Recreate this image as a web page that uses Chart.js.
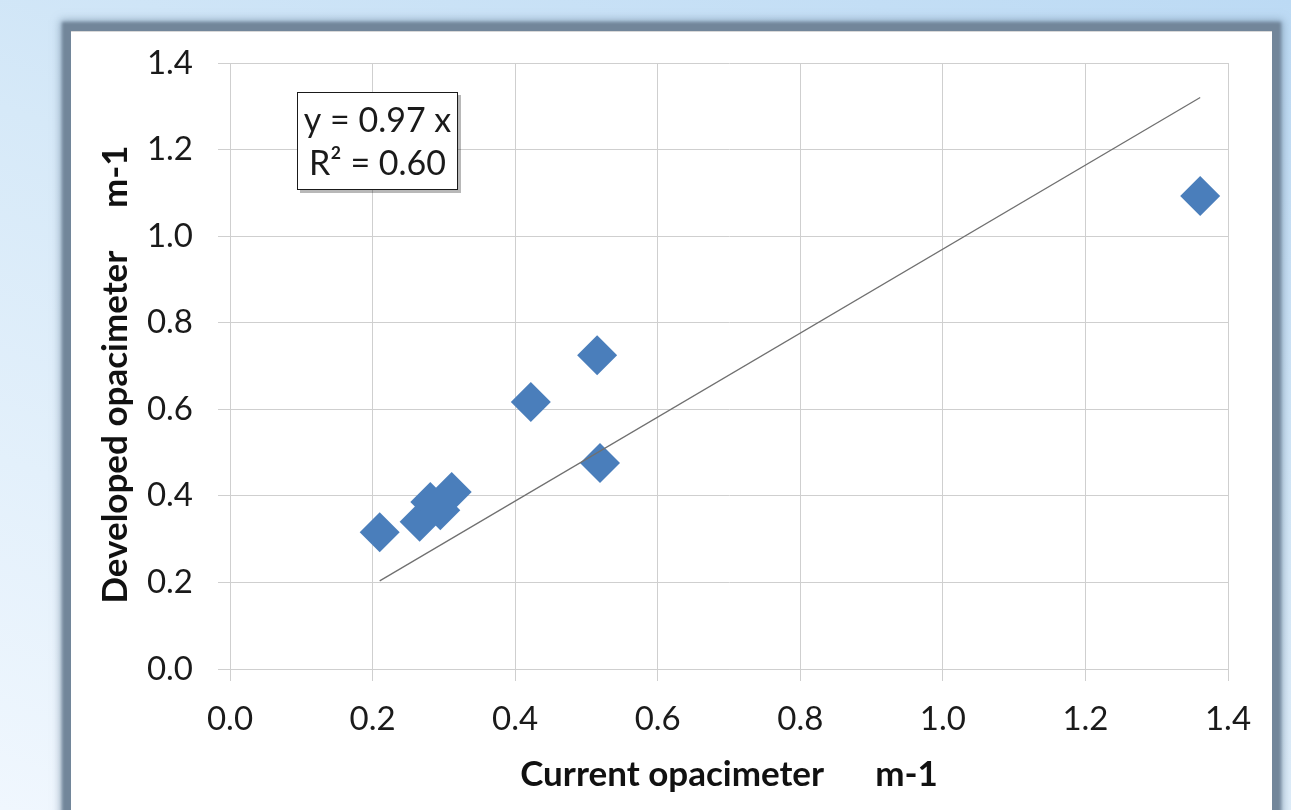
<!DOCTYPE html>
<html>
<head>
<meta charset="utf-8">
<script src="https://cdn.jsdelivr.net/npm/chart.js@4.4.1/dist/chart.umd.min.js"></script>
<style>
  html, body { margin: 0; padding: 0; width: 1291px; height: 810px; overflow: hidden; }
  body { background: linear-gradient(200deg, #bcdaf4 0%, #d6e9f8 45%, #f0f7fe 100%); position: relative; }
  #panel { position: absolute; left: 71px; top: 31px; width: 1201px; height: 900px; background: #ffffff;
           box-shadow: 0 0 3px 9px #72869a, 0 0 8px 11px rgba(110,135,160,0.6); border-top: 1px solid #d8d8d8; }
  #c { position: absolute; left: 0; top: 0; }
</style>
</head>
<body>
<div id="panel"></div>
<canvas id="c" width="1291" height="810"></canvas>
<script>
// ---- data ----
const currentOpacimeter   = [0.210, 0.266, 0.281, 0.295, 0.311, 0.422, 0.515, 0.519, 1.361];
const developedOpacimeter = [0.316, 0.340, 0.386, 0.367, 0.409, 0.617, 0.725, 0.476, 1.093];
const trendSlope = 0.97;
const rSquared = 0.60;
const tickValues = [0.0, 0.2, 0.4, 0.6, 0.8, 1.0, 1.2, 1.4];
const xTitle = 'Current opacimeter      m-1';
const yTitle = 'Developed opacimeter     m-1  ';
const equationLines = ['y = ' + trendSlope.toFixed(2) + ' x', 'R\u00B2 = ' + rSquared.toFixed(2)];

const points = currentOpacimeter.map((x, i) => ({ x: x, y: developedOpacimeter[i] }));
const xMin = Math.min(...currentOpacimeter);
const xMax = Math.max(...currentOpacimeter);
const trend = [{ x: xMin, y: trendSlope * xMin }, { x: xMax, y: trendSlope * xMax }];

const equationBox = {
  id: 'equationBox',
  afterDraw(chart) {
    const { ctx, chartArea } = chart;
    const left = chartArea.left + 67, top = chartArea.top + 29, w = 161, h = 98;
    ctx.save();
    ctx.fillStyle = 'rgba(0,0,0,0.28)';
    ctx.fillRect(left + 3, top + 3, w, h);
    ctx.fillStyle = '#ffffff';
    ctx.fillRect(left, top, w, h);
    ctx.strokeStyle = '#1a1a1a';
    ctx.lineWidth = 1;
    ctx.strokeRect(left + 0.5, top + 0.5, w - 1, h - 1);
    ctx.fillStyle = '#1a1a1a';
    ctx.font = '34px Lato';
    ctx.textAlign = 'center';
    ctx.textBaseline = 'middle';
    ctx.fillText(equationLines[0], left + w / 2, top + 29);
    ctx.fillText(equationLines[1], left + w / 2, top + 72);
    ctx.restore();
  }
};

const tickFont = { family: 'Lato', size: 33 };
const titleFont = { family: 'Lato', size: 35, weight: 'bold' };

new Chart(document.getElementById('c'), {
  type: 'scatter',
  data: {
    datasets: [
      {
        type: 'line',
        data: trend,
        borderColor: '#707070',
        borderWidth: 1.3,
        pointRadius: 0,
        fill: false,
        order: 0
      },
      {
        data: points,
        backgroundColor: '#4a7ebb',
        borderWidth: 0,
        pointStyle: 'rectRot',
        pointRadius: 20,
        order: 1
      }
    ]
  },
  options: {
    responsive: false,
    animation: false,
    devicePixelRatio: 1,
    layout: { padding: { left: 0, top: 63, right: 63, bottom: 0 } },
    plugins: { legend: { display: false }, tooltip: { enabled: false } },
    scales: {
      x: {
        type: 'linear', min: 0, max: 1.4,
        afterBuildTicks(s) { s.ticks = tickValues.map(v => ({ value: v })); },
        afterFit(s) { s.height = 141; },
        grid: { color: '#cfcfcf', lineWidth: 1, tickLength: 12 },
        border: { color: '#cfcfcf' },
        ticks: { font: tickFont, color: '#1a1a1a', padding: 19, maxRotation: 0, callback: v => Number(v).toFixed(1) },
        title: { display: true, text: xTitle, font: titleFont, color: '#111111', padding: { top: 0, bottom: 14 } }
      },
      y: {
        type: 'linear', min: 0, max: 1.4,
        afterBuildTicks(s) { s.ticks = tickValues.map(v => ({ value: v })); },
        afterFit(s) { s.width = 230; },
        grid: { color: '#cfcfcf', lineWidth: 1, tickLength: 12 },
        border: { color: '#cfcfcf' },
        ticks: { font: tickFont, color: '#1a1a1a', padding: 25, callback: v => Number(v).toFixed(1) },
        title: { display: true, text: yTitle, font: titleFont, color: '#111111', padding: { top: 95, bottom: 0 } }
      }
    }
  },
  plugins: [equationBox]
});
</script>
</body>
</html>
